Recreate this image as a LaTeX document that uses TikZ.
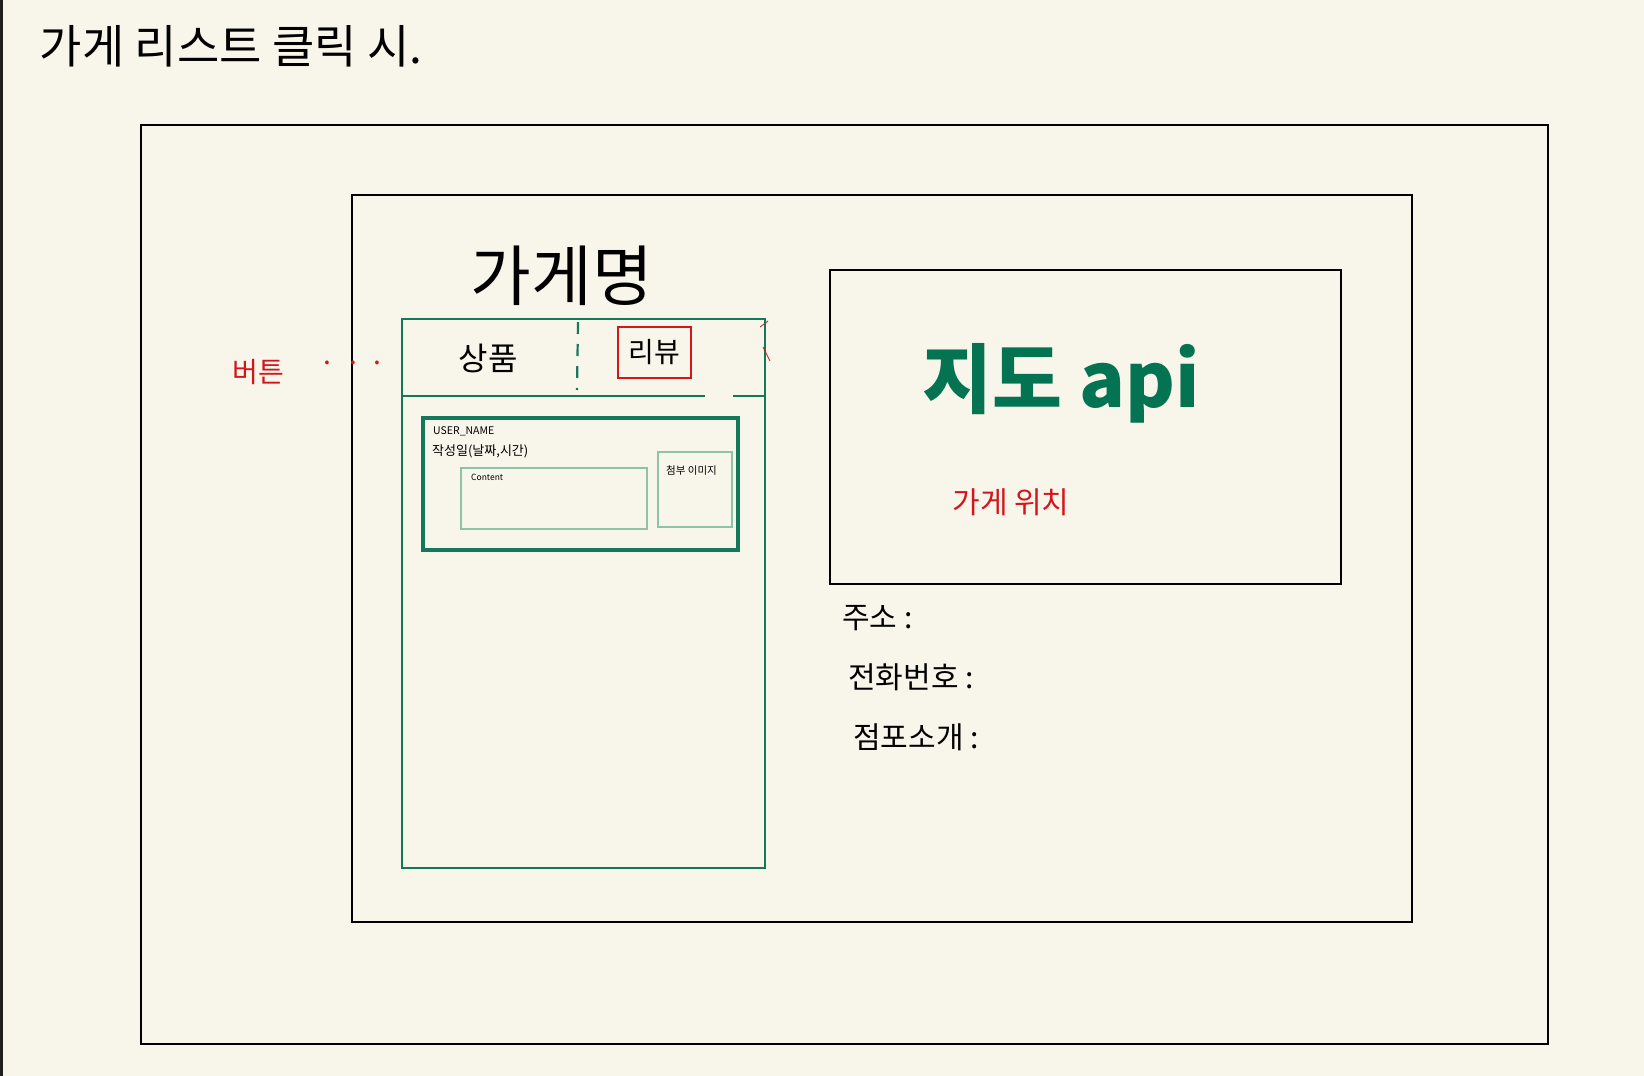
\documentclass[tikz,border=0pt]{standalone}
\usepackage{fontspec}
\setmainfont{Noto Sans CJK KR}
\usetikzlibrary{positioning}
\definecolor{paper}{HTML}{F8F6EA}
\definecolor{inkgreen}{HTML}{16785A}
\definecolor{mapgreen}{HTML}{037352}
\definecolor{palegreen}{HTML}{8EC3A9}
\definecolor{penred}{HTML}{D3161C}

\begin{document}
\begin{tikzpicture}[x=1pt,y=-1pt]
    \tikzset{frame/.style={rectangle,draw=black,line width=2.6pt,inner sep=0pt}}
    \tikzset{panel/.style={rectangle,draw=inkgreen,line width=2.6pt,inner sep=0pt}}
    \tikzset{card/.style={rectangle,draw=inkgreen,line width=3.2pt,inner sep=0pt}}
    \tikzset{thinbox/.style={rectangle,draw=palegreen,line width=1.2pt,inner sep=0pt}}
    \tikzset{hand/.style={inner sep=0pt,text=black}}
    \tikzset{note/.style={inner sep=0pt,text=penred}}
    \useasboundingbox[fill=paper] (0,0) rectangle (1644,1076);
    \fill[black!88] (0,0) rectangle (3,1076);

    % frames
    \node[frame, minimum width=1407pt, minimum height=919pt] (screen) at (844.5,584.5) {};
    \node[frame, minimum width=1060pt, minimum height=727pt] (page) at (882,558.5) {};
    \node[frame, minimum width=511pt, minimum height=314pt] (map) at (1085.5,427) {};

    % store panel with tabs
    \node[panel, minimum width=363pt, minimum height=549pt] (store) at (583.5,593.5) {};
    \coordinate (tabl) at (store.west |- 0,396);
    \coordinate (tabm) at (705,396);
    \coordinate (tabn) at (733,396);
    \coordinate (tabr) at (store.east |- 0,396);
    \draw[draw=inkgreen, line width=2.6pt] (tabl) -- (tabm);
    \draw[draw=inkgreen, line width=2.6pt] (tabn) -- (tabr);
    \coordinate (septop) at (578,322);
    \coordinate (sepbot) at (577,390);
    \draw[draw=inkgreen, line width=2.2pt, dash pattern=on 12pt off 10pt] (septop) -- (sepbot);

    \node[hand, font=\fontsize{66pt}{66pt}\selectfont] (name) at (562,276) {가게명};
    \node[hand, font=\fontsize{32pt}{32pt}\selectfont] (goods) at (488,358) {상품};
    \node[rectangle, draw=penred, line width=2.4pt, minimum width=73pt, minimum height=51pt] (review) at (654.5,352.5) {};
    \node[hand, font=\fontsize{28pt}{28pt}\selectfont] (reviewtxt) at (review.center) {리뷰};

    % review card
    \node[card, minimum width=315pt, minimum height=132pt] (item) at (580.5,484) {};
    \node[thinbox, minimum width=186pt, minimum height=61pt] (content) at (554,498.5) {};
    \node[thinbox, minimum width=74pt, minimum height=75pt] (attach) at (695,489.5) {};
    \node[hand, anchor=west, font=\fontsize{10.5pt}{10.5pt}\selectfont] (user) at (433,431) {USER\_NAME};
    \node[hand, anchor=west, font=\fontsize{13pt}{13pt}\selectfont] (date) at (432,451) {작성일(날짜,시간)};
    \node[hand, anchor=west, font=\fontsize{8.5pt}{8.5pt}\selectfont] (contenttxt) at (471,477) {Content};
    \node[hand, anchor=west, font=\fontsize{10.5pt}{10.5pt}\selectfont] (attachtxt) at (666,471) {첨부 이미지};

    % red notes
    \node[note, font=\fontsize{28pt}{28pt}\selectfont] (button) at (258,372) {버튼};
    \node[note, font=\fontsize{28pt}{28pt}\selectfont, anchor=base west] (dots) at (323,364) {.\hspace{19pt}.\hspace{16pt}.};
    \coordinate (marka) at (760,327);
    \coordinate (markb) at (768,321);
    \coordinate (markc) at (763,347);
    \coordinate (markd) at (770,361);
    \draw[penred, line width=0.8pt] (marka) -- (markb);
    \draw[penred, line width=0.8pt] (markc) -- (markd);

    % map area
    \node[inner sep=0pt, text=mapgreen, font=\fontsize{76pt}{76pt}\selectfont\bfseries] (mapapi) at (1061,383) {지도 api};
    \node[note, font=\fontsize{30pt}{30pt}\selectfont] (place) at (1011,502) {가게 위치};

    % store info
    \node[hand, anchor=west, font=\fontsize{30pt}{30pt}\selectfont] (addr) at (842,618) {주소 :};
    \node[hand, anchor=west, font=\fontsize{30pt}{30pt}\selectfont] (phone) at ([xshift=6pt,yshift=-59pt]addr.west) {전화번호 :};
    \node[hand, anchor=west, font=\fontsize{30pt}{30pt}\selectfont] (intro) at ([xshift=5pt,yshift=-60pt]phone.west) {점포소개 :};

    % title
    \node[hand, font=\fontsize{46pt}{46pt}\selectfont] (title) at (231,46) {가게 리스트 클릭 시.};
\end{tikzpicture}
\end{document}
